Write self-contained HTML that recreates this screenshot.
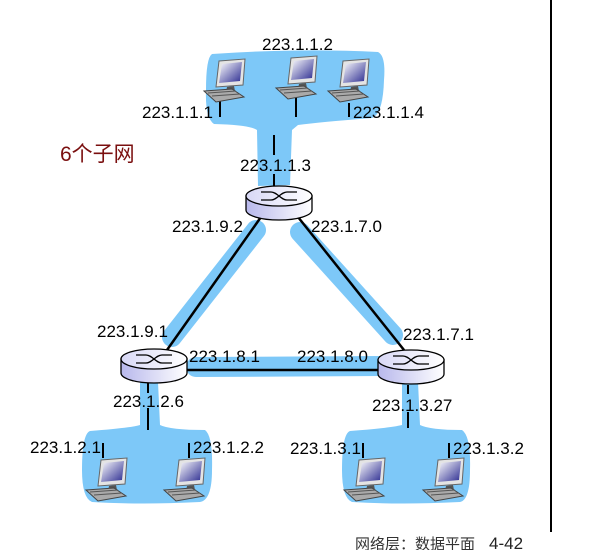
<!DOCTYPE html>
<html><head><meta charset="utf-8"><style>
html,body{margin:0;padding:0;background:#fff;width:592px;height:550px;overflow:hidden}
svg{display:block}
text{font-family:"Liberation Sans","Noto Sans CJK SC",sans-serif;font-size:17px;fill:#000}
</style></head><body>
<svg width="592" height="550" viewBox="0 0 592 550" xmlns="http://www.w3.org/2000/svg">
<defs>
<linearGradient id="scr" x1="0" y1="0" x2="1" y2="1"><stop offset="0" stop-color="#fff"/><stop offset="1" stop-color="#2a2a90"/></linearGradient>
<linearGradient id="rb" x1="0" y1="0" x2="1" y2="0"><stop offset="0" stop-color="#b8b8ec"/><stop offset="1" stop-color="#fff"/></linearGradient>
<linearGradient id="rt" x1="0" y1="0" x2="1" y2="0"><stop offset="0" stop-color="#d8d8f6"/><stop offset="1" stop-color="#fff"/></linearGradient>
<g id="pc">
<polygon points="3,1 29,-1 27,25 0,27" fill="#e4e4e4" stroke="#666" stroke-width="1"/>
<polygon points="6,4 26,2 24,21 3,23" fill="url(#scr)"/>
<polygon points="11,27 18,26 19,31 10,32" fill="#555"/>
<polygon points="-12,31 16,29 28,37 0,42" fill="#aaa" stroke="#444" stroke-width="1"/>
<line x1="-8" y1="33" x2="20" y2="31" stroke="#555"/><line x1="-4" y1="36" x2="24" y2="34" stroke="#555"/>
</g>
<g id="rt1">
<path d="M-33,0 L-33,14 A33,10 0 0 0 33,14 L33,0 Z" fill="url(#rb)" stroke="#000" stroke-width="1.3"/>
<ellipse cx="0" cy="0" rx="33" ry="10" fill="url(#rt)" stroke="#000" stroke-width="1.3"/>
<path d="M-18,-4 L-8,-4 C-2,-4 2,4 8,4 L18,4 M-18,4 L-8,4 C-2,4 2,-4 8,-4 L18,-4" fill="none" stroke="#000" stroke-width="1.3"/>
</g>
</defs>
<line x1="551" y1="0" x2="551" y2="532" stroke="#000" stroke-width="2"/>
<g fill="#7dc8f8">
<path d="M212,54 Q300,48 378,52 Q386,56 384,80 Q383,114 372,118 Q320,122 298,125 L292,130 L290,185 L258,186 L257,130 Q250,125 214,124 Q205,118 206,90 Q206,58 212,54 Z"/>
<path d="M140,382 L158,382 L160,425 Q170,430 205,430 Q213,436 212,470 Q212,500 200,502 Q140,505 92,502 Q82,498 82,470 Q82,434 90,431 Q130,428 140,425 Z"/>
<path d="M402,382 L418,382 L420,425 Q430,430 462,430 Q471,436 470,470 Q470,500 460,502 Q400,505 352,502 Q342,498 342,470 Q342,434 350,431 Q390,428 402,425 Z"/>
</g>
<g stroke="#7dc8f8" stroke-width="20" stroke-linecap="round" fill="none">
<line x1="256" y1="230" x2="172" y2="337"/>
<line x1="300" y1="232" x2="393" y2="335"/>
<line x1="196" y1="367" x2="394" y2="366"/>
</g>
<g stroke="#000" stroke-width="2.5">
<line x1="261" y1="217" x2="167" y2="350"/>
<line x1="298" y1="217" x2="404" y2="350"/>
<line x1="186" y1="370" x2="379" y2="370"/>
</g>
<g stroke="#000" stroke-width="2">
<line x1="220" y1="95" x2="220" y2="117"/>
<line x1="296" y1="95" x2="296" y2="117"/>
<line x1="349" y1="103" x2="349" y2="117"/>
<line x1="274" y1="135" x2="274" y2="155"/>
<line x1="274" y1="174" x2="274" y2="187"/>
<line x1="148" y1="383" x2="148" y2="393"/>
<line x1="148" y1="408" x2="148" y2="430"/>
<line x1="408" y1="385" x2="408" y2="394"/>
<line x1="408" y1="412" x2="408" y2="428"/>
<line x1="103" y1="443" x2="103" y2="458"/>
<line x1="189" y1="443" x2="189" y2="458"/>
<line x1="363" y1="443" x2="363" y2="458"/>
<line x1="449" y1="443" x2="449" y2="458"/>
</g>
<use href="#pc" x="216" y="60"/>
<use href="#pc" x="288" y="57"/>
<use href="#pc" x="340" y="60"/>
<use href="#pc" x="98" y="459"/>
<use href="#pc" x="176" y="459"/>
<use href="#pc" x="356" y="459"/>
<use href="#pc" x="435" y="459"/>
<use href="#rt1" x="279" y="196"/>
<use href="#rt1" x="154" y="359"/>
<use href="#rt1" x="411" y="360"/>
<text x="262" y="50">223.1.1.2</text>
<text x="142" y="118">223.1.1.1</text>
<text x="353" y="118">223.1.1.4</text>
<text x="240" y="171">223.1.1.3</text>
<text x="60" y="161" style="font-size:21px;fill:#7a0f0f">6个子网</text>
<text x="172" y="232">223.1.9.2</text>
<text x="311" y="232">223.1.7.0</text>
<text x="97" y="337">223.1.9.1</text>
<text x="403" y="340">223.1.7.1</text>
<text x="189" y="362">223.1.8.1</text>
<text x="297" y="362">223.1.8.0</text>
<text x="113" y="407">223.1.2.6</text>
<text x="372" y="411">223.1.3.27</text>
<text x="30" y="453">223.1.2.1</text>
<text x="193" y="453">223.1.2.2</text>
<text x="290" y="454">223.1.3.1</text>
<text x="453" y="454">223.1.3.2</text>
<text x="355" y="549" style="font-size:15px;fill:#333">网络层：数据平面</text>
<text x="489" y="549" style="font-size:17px;fill:#222">4-42</text>
</svg>
</body></html>
